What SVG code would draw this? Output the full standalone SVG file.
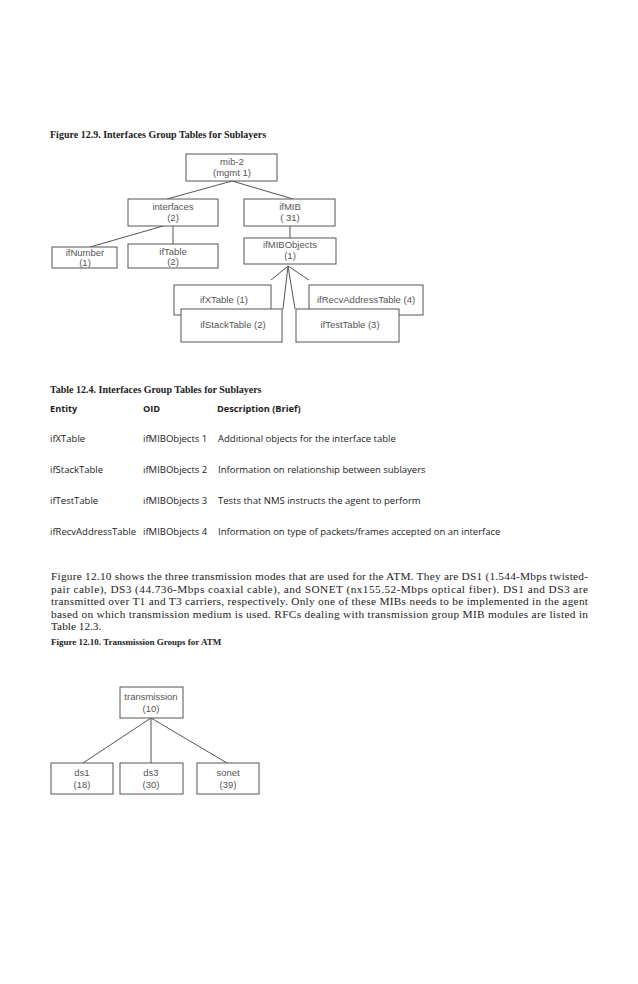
<svg xmlns="http://www.w3.org/2000/svg" width="638" height="984" viewBox="0 0 638 984">
<style>
.cap{font-family:"Liberation Serif",serif;font-weight:bold;font-size:10px;fill:#222}
.cap2{font-family:"Liberation Serif",serif;font-weight:bold;font-size:9px;fill:#222}
.box{fill:#fff;stroke:#555;stroke-width:1}
.nt{font-family:"Liberation Sans",Arial,sans-serif;font-size:9.5px;fill:#555;text-anchor:middle}
.ln{stroke:#555;stroke-width:1;fill:none}
.th{font-family:"Open Sans","Liberation Sans",sans-serif;font-weight:bold;font-size:9.2px;fill:#222}
.td{font-family:"Open Sans","Liberation Sans",sans-serif;font-size:9.5px;fill:#222}
.p{font-family:"Liberation Serif",serif;font-size:11.3px;fill:#222}
</style>
<rect width="638" height="984" fill="#fff"/>
<text class="cap" x="50" y="138">Figure 12.9. Interfaces Group Tables for Sublayers</text>

<g id="connectors1">
<line class="ln" x1="232" y1="181" x2="167" y2="199"/>
<line class="ln" x1="232" y1="181" x2="293" y2="199"/>
<line class="ln" x1="163" y1="226" x2="90" y2="247"/>
<line class="ln" x1="173" y1="226" x2="173" y2="244"/>
<line class="ln" x1="290" y1="226" x2="290" y2="238"/>
<line class="ln" x1="288" y1="266" x2="271" y2="280"/>
<line class="ln" x1="288" y1="266" x2="283" y2="309"/>
<line class="ln" x1="288" y1="266" x2="295" y2="309"/>
<line class="ln" x1="288" y1="266" x2="309" y2="280"/>
</g>

<g id="mib2"><rect class="box" x="186" y="154" width="91" height="27"/><text class="nt" x="232" y="165">mib-2</text><text class="nt" x="232" y="176">(mgmt 1)</text></g>
<g id="interfaces"><rect class="box" x="128" y="199" width="90" height="27"/><text class="nt" x="173" y="210">interfaces</text><text class="nt" x="173" y="221">(2)</text></g>
<g id="ifMIB"><rect class="box" x="244" y="199" width="91" height="27"/><text class="nt" x="290" y="210">ifMIB</text><text class="nt" x="290" y="221">( 31)</text></g>
<g id="ifNumber"><rect class="box" x="52" y="247" width="65" height="21"/><text class="nt" x="85" y="256">ifNumber</text><text class="nt" x="85" y="266">(1)</text></g>
<g id="ifTable"><rect class="box" x="128" y="244" width="90" height="24"/><text class="nt" x="173" y="255">ifTable</text><text class="nt" x="173" y="265">(2)</text></g>
<g id="ifMIBObjects"><rect class="box" x="244" y="238" width="92" height="26"/><text class="nt" x="290" y="248">ifMIBObjects</text><text class="nt" x="290" y="259">(1)</text></g>
<g id="ifXTable"><rect class="box" x="174" y="285" width="97" height="30"/><text class="nt" x="224" y="303">ifXTable (1)</text></g>
<g id="ifRecvAddressTable"><rect class="box" x="309" y="285" width="114" height="30"/><text class="nt" x="366" y="303">ifRecvAddressTable (4)</text></g>
<g id="ifStackTable"><rect class="box" x="181" y="309" width="101" height="33"/><text class="nt" x="233" y="328">ifStackTable (2)</text></g>
<g id="ifTestTable"><rect class="box" x="296" y="309" width="103" height="33"/><text class="nt" x="350" y="328">ifTestTable (3)</text></g>

<text class="cap" x="50" y="393">Table 12.4. Interfaces Group Tables for Sublayers</text>
<text class="th" x="50" y="412">Entity</text>
<text class="th" x="143" y="412">OID</text>
<text class="th" x="217" y="412">Description (Brief)</text>
<text class="td" x="50" y="442">ifXTable</text>
<text class="td" x="143" y="442">ifMIBObjects 1</text>
<text class="td" x="218" y="442">Additional objects for the interface table</text>
<text class="td" x="50" y="473">ifStackTable</text>
<text class="td" x="143" y="473">ifMIBObjects 2</text>
<text class="td" x="218" y="473">Information on relationship between sublayers</text>
<text class="td" x="50" y="504">ifTestTable</text>
<text class="td" x="143" y="504">ifMIBObjects 3</text>
<text class="td" x="218" y="504">Tests that NMS instructs the agent to perform</text>
<text class="td" x="50" y="535">ifRecvAddressTable</text>
<text class="td" x="143" y="535">ifMIBObjects 4</text>
<text class="td" x="218" y="535">Information on type of packets/frames accepted on an interface</text>

<text class="p" x="51" y="580" textLength="537" lengthAdjust="spacing">Figure 12.10 shows the three transmission modes that are used for the ATM. They are DS1 (1.544-Mbps twisted-</text>
<text class="p" x="51" y="592.5" textLength="537" lengthAdjust="spacing">pair cable), DS3 (44.736-Mbps coaxial cable), and SONET (nx155.52-Mbps optical fiber). DS1 and DS3 are</text>
<text class="p" x="51" y="605" textLength="537" lengthAdjust="spacing">transmitted over T1 and T3 carriers, respectively. Only one of these MIBs needs to be implemented in the agent</text>
<text class="p" x="51" y="617.5" textLength="537" lengthAdjust="spacing">based on which transmission medium is used. RFCs dealing with transmission group MIB modules are listed in</text>
<text class="p" x="51" y="630">Table 12.3.</text>

<text class="cap2" x="51" y="645">Figure 12.10. Transmission Groups for ATM</text>

<g id="connectors2">
<line class="ln" x1="151" y1="718" x2="83" y2="763"/>
<line class="ln" x1="151" y1="718" x2="151" y2="763"/>
<line class="ln" x1="151" y1="718" x2="227" y2="763"/>
</g>
<g id="transmission"><rect class="box" x="120" y="687" width="63" height="31"/><text class="nt" x="151" y="700">transmission</text><text class="nt" x="151" y="712">(10)</text></g>
<g id="ds1"><rect class="box" x="51" y="763" width="62" height="31"/><text class="nt" x="82" y="776">ds1</text><text class="nt" x="82" y="788">(18)</text></g>
<g id="ds3"><rect class="box" x="120" y="763" width="63" height="31"/><text class="nt" x="151" y="776">ds3</text><text class="nt" x="151" y="788">(30)</text></g>
<g id="sonet"><rect class="box" x="197" y="763" width="62" height="31"/><text class="nt" x="228" y="776">sonet</text><text class="nt" x="228" y="788">(39)</text></g>
</svg>
